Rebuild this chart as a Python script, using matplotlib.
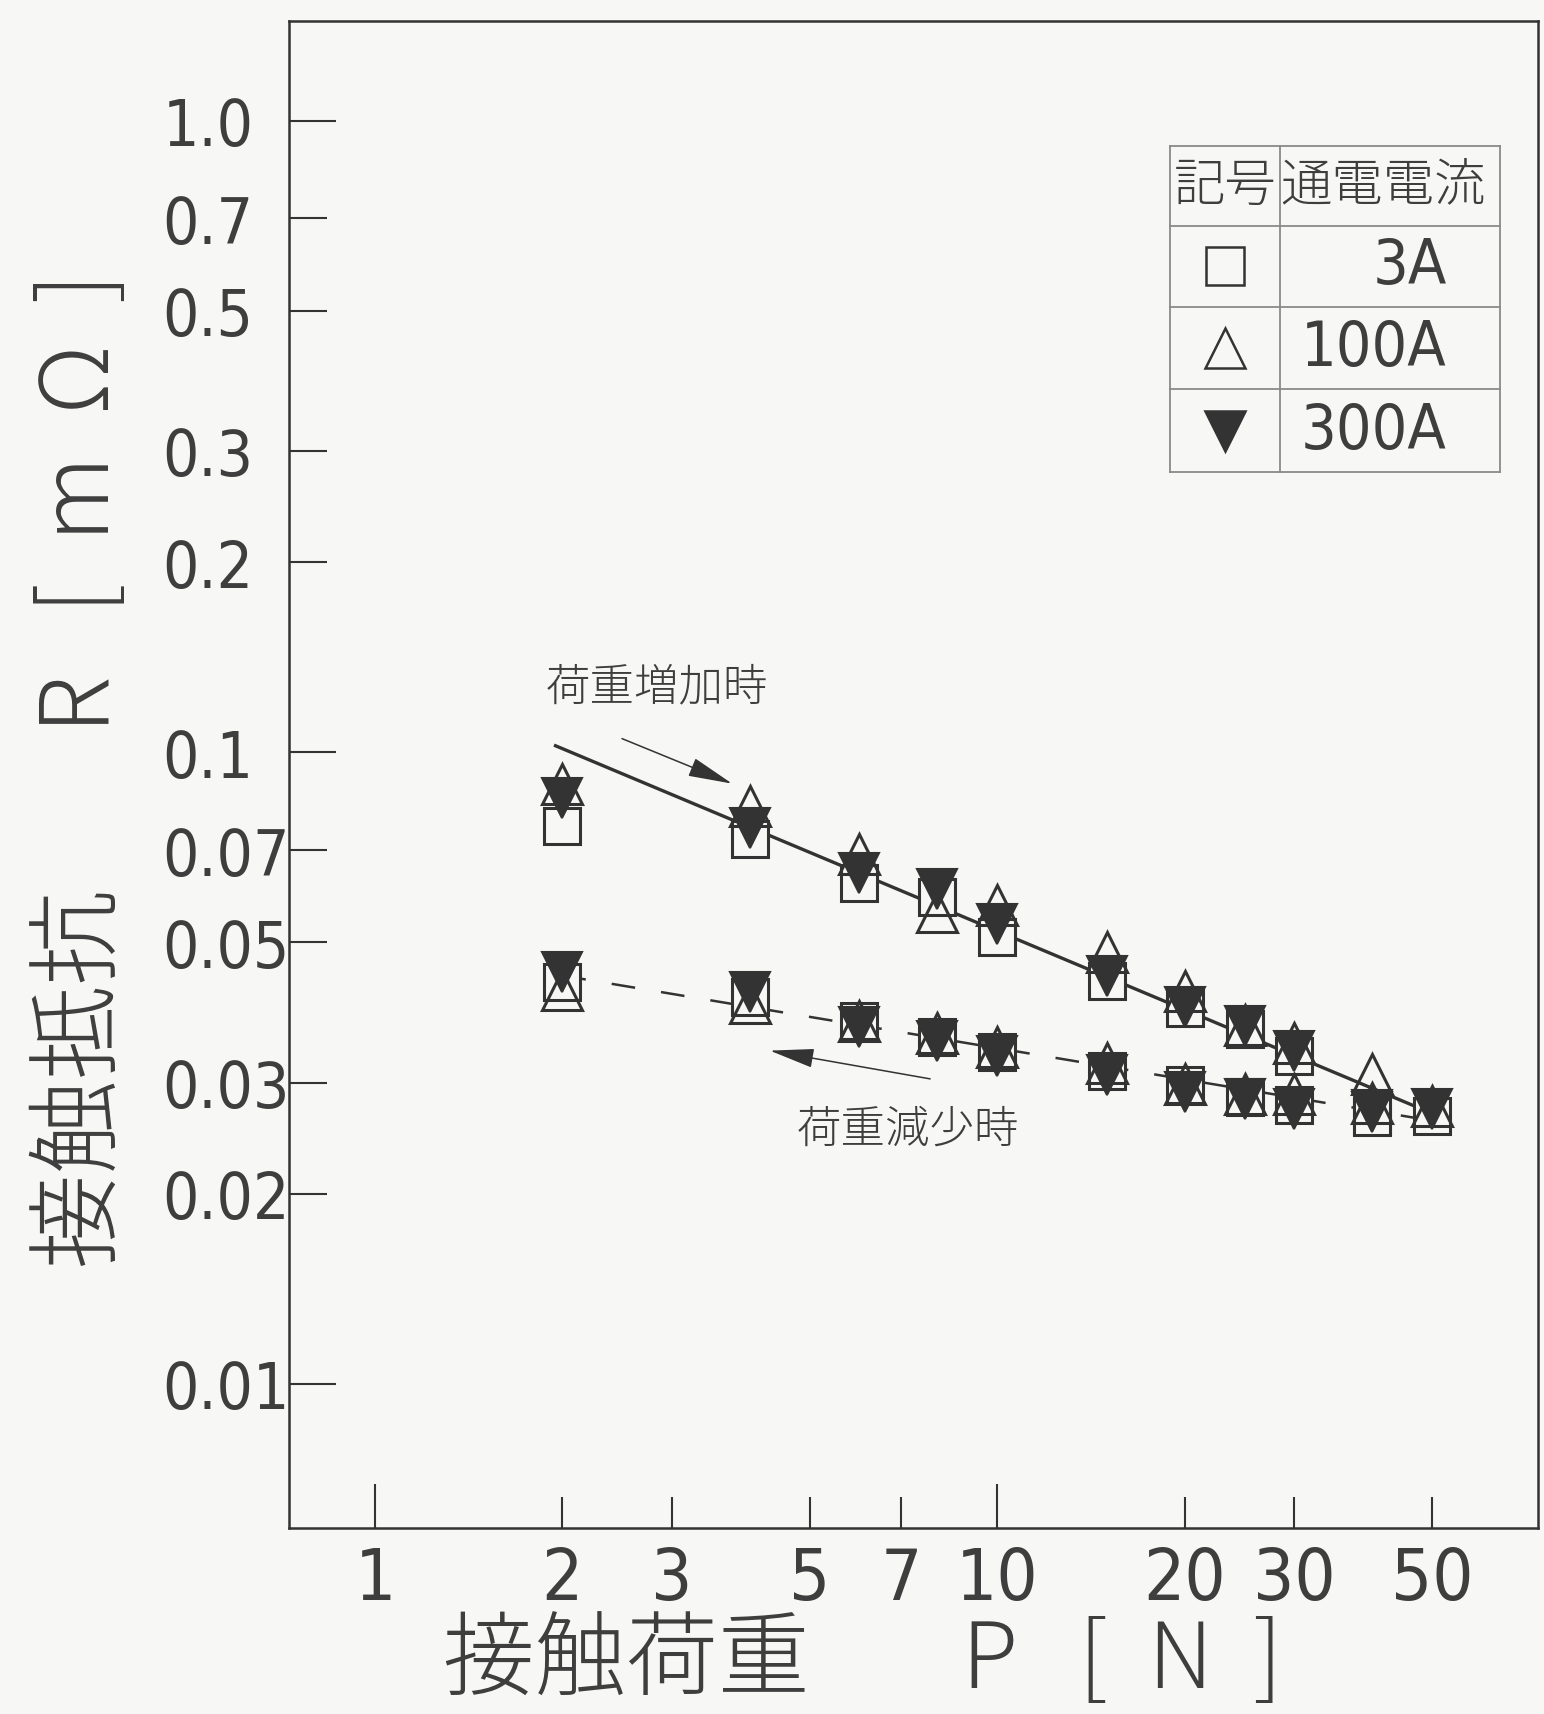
import matplotlib
matplotlib.use("Agg")
import matplotlib.pyplot as plt
from matplotlib.ticker import FixedLocator, FixedFormatter

# ---- data -------------------------------------------------------------
# contact load P [N], loading (increasing) sweep
P_inc = [2, 4, 6, 8, 10, 15, 20, 25, 30, 40, 50]
R_3A_inc = [0.0765, 0.0730, 0.0621, 0.0590, 0.0509, 0.0435, 0.0393, 0.0364, 0.0331, 0.0266, 0.0266]
R_100A_inc = [0.0891, 0.0823, 0.0691, 0.0559, 0.0572, 0.0483, 0.0419, 0.0370, 0.0346, 0.0310, 0.0275]
R_300A_inc = [0.0847, 0.0760, 0.0644, 0.0608, 0.0535, 0.0443, 0.0395, 0.0369, 0.0337, 0.0271, 0.0272]

# unloading (decreasing) sweep
P_dec = [2, 4, 6, 8, 10, 15, 20, 25, 30, 40]
R_3A_dec = [0.0433, 0.0410, 0.0376, 0.0354, 0.0335, 0.0313, 0.0297, 0.0285, 0.0276, 0.0265]
R_100A_dec = [0.0421, 0.0401, 0.0375, 0.0360, 0.0342, 0.0322, 0.0298, 0.0288, 0.0288, 0.0278]
R_300A_dec = [0.0449, 0.0418, 0.0367, 0.0349, 0.0331, 0.0308, 0.0290, 0.0283, 0.0272, 0.0269]

# trend lines (power-law fits drawn as straight lines on log-log axes)
P_inc_fit = [1.95, 50]
R_inc_fit = [0.1024, 0.0268]
P_dec_fit = [2.0, 50]
R_dec_fit = [0.0443, 0.0261]

# axis ticks
x_major = [1, 10]
x_minor = [2, 3, 5, 7, 20, 30, 50]
y_major = [1.0, 0.1, 0.01]
y_major_labels = ["1.0", "0.1", "0.01"]
y_minor = [0.7, 0.5, 0.3, 0.2, 0.07, 0.05, 0.03, 0.02]
y_minor_labels = ["0.7", "0.5", "0.3", "0.2", "0.07", "0.05", "0.03", "0.02"]

legend_symbols = ["s", "^", "v"]
legend_currents = ["3A", "100A", "300A"]

# ---- style ------------------------------------------------------------
BG = "#f7f7f5"
INK = "#333333"
TXT = "#3e3e3e"
NUM_FONT = dict(family=["DejaVu Sans"], stretch="condensed")
CJK_FONT = dict(family=["Noto Sans CJK JP", "DejaVu Sans"], weight="light")

W, H = 1544, 1715
fig = plt.figure(figsize=(W / 100, H / 100), dpi=100, facecolor=BG)
ax_l, ax_r, ax_t, ax_b = 289, 1538, 22, 1529
ax = fig.add_axes([ax_l / W, 1 - ax_b / H, (ax_r - ax_l) / W, (ax_b - ax_t) / H])
ax.set_facecolor(BG)
ax.set_xscale("log")
ax.set_yscale("log")
ax.set_xlim(0.7273, 73.96)
ax.set_ylim(0.005913, 1.438)

for s in ax.spines.values():
    s.set_color(INK)
    s.set_linewidth(1.8)

# ticks
ax.xaxis.set_major_locator(FixedLocator(x_major))
ax.xaxis.set_major_formatter(FixedFormatter([str(v) for v in x_major]))
ax.xaxis.set_minor_locator(FixedLocator(x_minor))
ax.xaxis.set_minor_formatter(FixedFormatter([str(v) for v in x_minor]))
ax.yaxis.set_major_locator(FixedLocator(y_major))
ax.yaxis.set_major_formatter(FixedFormatter(y_major_labels))
ax.yaxis.set_minor_locator(FixedLocator(y_minor))
ax.yaxis.set_minor_formatter(FixedFormatter(y_minor_labels))

ax.tick_params(axis="x", which="major", direction="in", length=32, width=1.5,
               color=INK, pad=12, labelsize=52, labelcolor=TXT)
ax.tick_params(axis="x", which="minor", direction="in", length=22, width=1.5,
               color=INK, pad=12, labelsize=52, labelcolor=TXT)
ax.tick_params(axis="y", which="major", direction="in", length=34, width=1.5,
               color=INK, pad=91, labelsize=46, labelcolor=TXT)
ax.tick_params(axis="y", which="minor", direction="in", length=27, width=1.5,
               color=INK, pad=91, labelsize=46, labelcolor=TXT)
for lab in ax.get_xticklabels(which="both") + ax.get_yticklabels(which="both"):
    lab.set_family(NUM_FONT["family"])
    lab.set_stretch(NUM_FONT["stretch"])
for lab in ax.get_yticklabels(which="both"):
    lab.set_horizontalalignment("left")

# trend lines
ax.plot(P_inc_fit, R_inc_fit, "-", color=INK, lw=2.4, zorder=2)
ax.plot(P_dec_fit, R_dec_fit, color=INK, lw=1.8, ls=(0, (9.5, 10.5)), zorder=2)

# measured points
for P, R in ((P_inc, R_3A_inc), (P_dec, R_3A_dec)):
    ax.plot(P, R, ls="none", marker="s", ms=26, mfc=BG, mec=INK, mew=2.2, zorder=3)
for P, R in ((P_inc, R_100A_inc), (P_dec, R_100A_dec)):
    ax.plot(P, R, ls="none", marker="^", ms=29, mfc="none", mec=INK, mew=2.2, zorder=4)
for P, R in ((P_inc, R_300A_inc), (P_dec, R_300A_dec)):
    ax.plot(P, R, ls="none", marker="v", ms=29, mfc=INK, mec=INK, mew=1.5, zorder=5)

# annotations for load direction
arrow = dict(arrowstyle="-|>,head_length=1.4,head_width=0.3", mutation_scale=20,
             color=INK, lw=1.1, shrinkA=0, shrinkB=0)
ax.annotate("", xy=(3.748, 0.0892), xytext=(2.494, 0.1051), arrowprops=arrow)
ax.annotate("", xy=(4.31, 0.0337), xytext=(7.80, 0.0304), arrowprops=arrow)
ax.text(2.84, 0.1270, "荷重増加時", ha="center", va="center", fontsize=32,
        color=TXT, **CJK_FONT)
ax.text(7.19, 0.02534, "荷重減少時", ha="center", va="center", fontsize=32,
        color=TXT, **CJK_FONT)

# legend table
tx0, tx1, tx2 = 0.7054, 0.7934, 0.9696
ty = [0.9171, 0.8640, 0.8102, 0.7558, 0.7007]
tab = dict(color="#8a8a8a", lw=1.3, transform=ax.transAxes, zorder=6)
for yy in ty:
    ax.plot([tx0, tx2], [yy, yy], **tab)
for xx in (tx0, tx1, tx2):
    ax.plot([xx, xx], [ty[-1], ty[0]], **tab)
hy = (ty[0] + ty[1]) / 2
ax.text((tx0 + tx1) / 2, hy, "記号", transform=ax.transAxes, ha="center", va="center",
        fontsize=37, color=TXT, **CJK_FONT)
ax.text(0.876, hy, "通電電流", transform=ax.transAxes, ha="center", va="center",
        fontsize=37, color=TXT, **CJK_FONT)
for i, (mk, cur) in enumerate(zip(legend_symbols, legend_currents)):
    yc = (ty[i + 1] + ty[i + 2]) / 2
    filled = mk == "v"
    ax.plot([(tx0 + tx1) / 2], [yc], transform=ax.transAxes, ls="none", marker=mk,
            ms=27 if mk == "s" else 29, mfc=INK if filled else "none", mec=INK,
            mew=1.8, zorder=7)
    ax.text(0.9271, yc, cur, transform=ax.transAxes, ha="right", va="center",
            fontsize=45, color=TXT, **NUM_FONT)

# axis titles
fig.text(443 / W, 1 - 1662 / H, "接触荷重\u3000   P   [  N  ]", ha="left", va="center",
         fontsize=66, color=TXT, **CJK_FONT)
fig.text(82 / W, 1 - 1268 / H, "接触抵抗\u3000   R   [  m  Ω  ]", rotation=90, ha="center",
         va="bottom", fontsize=68, color=TXT, **CJK_FONT)

fig.savefig("out.png", dpi=100, facecolor=BG)
